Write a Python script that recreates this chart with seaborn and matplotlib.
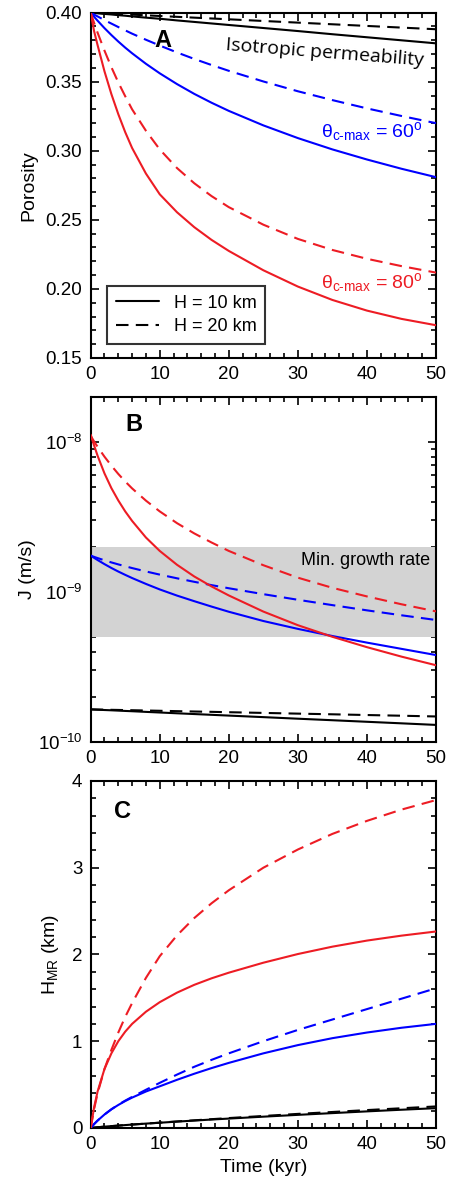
import numpy as np
import pandas as pd
import matplotlib
matplotlib.use("Agg")
import matplotlib.pyplot as plt
import seaborn as sns
from matplotlib.lines import Line2D
from matplotlib.ticker import MultipleLocator, LogLocator, NullFormatter, FormatStrFormatter

sns.set_style("ticks")
plt.rcParams['font.family'] = ['Liberation Sans', 'DejaVu Sans']
plt.rcParams['mathtext.fontset'] = 'custom'
plt.rcParams['mathtext.rm'] = 'Liberation Sans'
plt.rcParams['mathtext.it'] = 'Liberation Sans:italic'
plt.rcParams['mathtext.bf'] = 'Liberation Sans:bold'
plt.rcParams['mathtext.default'] = 'regular'
for k in ['text.color', 'axes.labelcolor', 'axes.edgecolor', 'xtick.color', 'ytick.color']:
    plt.rcParams[k] = 'black'

# ---- data ----
time_kyr = [0, 0.5, 1, 2, 3, 4, 5, 6, 8, 10, 12.5, 15, 17.5, 20, 25, 30, 35, 40, 45, 50]

# A: porosity
por_iso_10 = [0.4000, 0.3998, 0.3996, 0.3991, 0.3987, 0.3982, 0.3978, 0.3973, 0.3964, 0.3956,
              0.3944, 0.3933, 0.3922, 0.3911, 0.3889, 0.3867, 0.3844, 0.3822, 0.3800, 0.3778]
por_iso_20 = [0.4000, 0.3999, 0.3998, 0.3995, 0.3993, 0.3990, 0.3988, 0.3986, 0.3981, 0.3976,
              0.3970, 0.3964, 0.3958, 0.3952, 0.3940, 0.3928, 0.3916, 0.3904, 0.3892, 0.3880]
por_60_10 = [0.400, 0.3970, 0.3942, 0.3888, 0.3838, 0.3791, 0.3747, 0.3706, 0.3630, 0.3561,
             0.3483, 0.3412, 0.3348, 0.3289, 0.3184, 0.3092, 0.3010, 0.2937, 0.2870, 0.2809]
por_60_20 = [0.400, 0.3986, 0.3973, 0.3946, 0.3921, 0.3896, 0.3872, 0.3848, 0.3804, 0.3762,
             0.3712, 0.3665, 0.3621, 0.3579, 0.3502, 0.3431, 0.3367, 0.3307, 0.3252, 0.3200]
por_80_10 = [0.400, 0.3865, 0.3765, 0.3575, 0.341, 0.3265, 0.3135, 0.302, 0.2835, 0.2685,
             0.2555, 0.2447, 0.2355, 0.2275, 0.2135, 0.2017, 0.192, 0.1843, 0.1783, 0.1737]
por_80_20 = [0.400, 0.3925, 0.3855, 0.3725, 0.3605, 0.3495, 0.3395, 0.330, 0.3145, 0.301,
             0.2875, 0.2765, 0.2672, 0.2592, 0.2465, 0.2362, 0.2282, 0.2218, 0.2165, 0.2118]

# B: J in units of 1e-9 m/s
J_iso_10 = [0.165, 0.1646, 0.1642, 0.1634, 0.1627, 0.1619, 0.1611, 0.1604, 0.1588, 0.1573,
            0.1554, 0.1536, 0.1518, 0.1500, 0.1465, 0.1430, 0.1397, 0.1364, 0.1332, 0.1300]
J_iso_20 = [0.165, 0.1648, 0.1646, 0.1643, 0.1639, 0.1636, 0.1632, 0.1629, 0.1622, 0.1615,
            0.1606, 0.1597, 0.1589, 0.1580, 0.1563, 0.1546, 0.1530, 0.1513, 0.1497, 0.1480]
J_60_10 = [1.75, 1.690, 1.635, 1.535, 1.447, 1.370, 1.302, 1.240, 1.133, 1.041,
           0.947, 0.869, 0.800, 0.739, 0.641, 0.568, 0.509, 0.460, 0.418, 0.380]
J_60_20 = [1.75, 1.716, 1.685, 1.628, 1.576, 1.529, 1.486, 1.445, 1.372, 1.307,
           1.235, 1.170, 1.112, 1.060, 0.968, 0.888, 0.818, 0.755, 0.700, 0.651]
J_80_10 = [11.2, 9.48, 8.11, 6.18, 4.93, 4.08, 3.45, 2.98, 2.31, 1.88,
           1.52, 1.27, 1.09, 0.949, 0.741, 0.601, 0.503, 0.429, 0.371, 0.325]
J_80_20 = [11.0, 10.09, 9.30, 7.99, 6.96, 6.13, 5.46, 4.91, 4.07, 3.45,
           2.88, 2.46, 2.14, 1.88, 1.51, 1.247, 1.067, 0.935, 0.829, 0.743]
band_lo, band_hi = 5e-10, 2e-9

# C: H_MR (km)
H_iso_10 = [0, 0.004, 0.008, 0.015, 0.021, 0.027, 0.033, 0.039, 0.050, 0.060,
            0.073, 0.085, 0.097, 0.108, 0.130, 0.151, 0.171, 0.191, 0.210, 0.228]
H_iso_20 = [0, 0.004, 0.008, 0.015, 0.021, 0.027, 0.033, 0.039, 0.050, 0.061,
            0.075, 0.088, 0.101, 0.114, 0.138, 0.162, 0.184, 0.206, 0.227, 0.248]
H_60_10 = [0, 0.045, 0.085, 0.155, 0.215, 0.265, 0.31, 0.35, 0.42, 0.48,
           0.555, 0.625, 0.69, 0.75, 0.86, 0.955, 1.035, 1.10, 1.155, 1.20]
H_60_20 = [0, 0.045, 0.085, 0.155, 0.215, 0.268, 0.315, 0.358, 0.44, 0.52,
           0.615, 0.705, 0.785, 0.86, 1.0, 1.13, 1.25, 1.37, 1.49, 1.61]
H_80_10 = [0, 0.24, 0.42, 0.68, 0.86, 1.00, 1.11, 1.20, 1.34, 1.45,
           1.56, 1.65, 1.725, 1.79, 1.905, 2.005, 2.09, 2.16, 2.217, 2.265]
H_80_20 = [0, 0.22, 0.40, 0.68, 0.90, 1.10, 1.28, 1.44, 1.73, 1.98,
           2.22, 2.42, 2.59, 2.74, 3.0, 3.21, 3.39, 3.54, 3.67, 3.78]

palette = {'iso': 'black', '60': '#0000ff', '80': '#ed1c24'}
dashes = {'10 km': '', '20 km': (6, 3.5)}

def frame(iso10, iso20, s10, s20, e10, e20, scale=1.0):
    rows = []
    series = {('iso', '10 km'): iso10, ('iso', '20 km'): iso20,
              ('60', '10 km'): s10, ('60', '20 km'): s20,
              ('80', '10 km'): e10, ('80', '20 km'): e20}
    for (c, h), vals in series.items():
        for t, v in zip(time_kyr, vals):
            rows.append({'time': t, 'value': v * scale, 'case': c, 'H': h})
    return pd.DataFrame(rows)

dfA = frame(por_iso_10, por_iso_20, por_60_10, por_60_20, por_80_10, por_80_20)
dfB = frame(J_iso_10, J_iso_20, J_60_10, J_60_20, J_80_10, J_80_20, scale=1e-9)
dfC = frame(H_iso_10, H_iso_20, H_60_10, H_60_20, H_80_10, H_80_20)

fig = plt.figure(figsize=(4.55, 11.96), dpi=100)
axA = fig.add_axes([0.1993, 0.7007, 0.7589, 0.2887])
axB = fig.add_axes([0.1993, 0.3796, 0.7589, 0.2885])
axC = fig.add_axes([0.1993, 0.0569, 0.7589, 0.2901])

for ax, df in [(axA, dfA), (axB, dfB), (axC, dfC)]:
    sns.lineplot(data=df, x='time', y='value', hue='case', style='H',
                 palette=palette, dashes=dashes, linewidth=1.5,
                 legend=False, ax=ax, zorder=3)
    ax.set_xlim(0, 50)
    ax.xaxis.set_major_locator(MultipleLocator(10))
    ax.xaxis.set_minor_locator(MultipleLocator(2))
    ax.tick_params(which='both', direction='in', top=True, right=True,
                   labelsize=13.5, width=1.2, pad=6)
    ax.tick_params(which='major', length=6)
    ax.tick_params(which='minor', length=3.5)
    for s in ax.spines.values():
        s.set_linewidth(1.5)
    ax.set_xlabel('')

sub = '$_{\\mathregular{c\u2010max}}$'

# panel A
axA.set_ylim(0.15, 0.40)
axA.yaxis.set_major_locator(MultipleLocator(0.05))
axA.yaxis.set_minor_locator(MultipleLocator(0.01))
axA.yaxis.set_major_formatter(FormatStrFormatter('%.2f'))
axA.set_ylabel('Porosity', fontsize=14, labelpad=6)
axA.text(0.209, 0.918, 'A', transform=axA.transAxes, fontsize=17,
         fontweight='bold', ha='center', va='center')
axA.text(33.9, 0.3712, 'Isotropic permeability', fontsize=14, rotation=-4.5,
         ha='center', va='center', family=['Open Sans', 'DejaVu Sans'])
axA.text(33.3, 0.310, 'θ' + sub + ' = 60$^{\\mathregular{o}}$',
         color=palette['60'], fontsize=14, ha='left', va='baseline')
axA.text(33.3, 0.201, 'θ' + sub + ' = 80$^{\\mathregular{o}}$',
         color=palette['80'], fontsize=14, ha='left', va='baseline')
handles = [Line2D([], [], color='black', lw=1.5, label='H = 10 km'),
           Line2D([], [], color='black', lw=1.5, dashes=(6, 3.5), label='H = 20 km')]
leg = axA.legend(handles=handles, loc='lower left', bbox_to_anchor=(0.047, 0.04),
                 borderaxespad=0, fontsize=13, frameon=True, fancybox=False,
                 edgecolor='black', handlelength=2.4, borderpad=0.5,
                 labelspacing=0.35, handletextpad=0.8)
leg.get_frame().set_linewidth(1.5)

# panel B
axB.set_yscale('log')
axB.set_ylim(1e-10, 2e-8)
axB.yaxis.set_major_locator(LogLocator(base=10))
axB.yaxis.set_minor_locator(LogLocator(base=10, subs=np.arange(2, 10)))
axB.yaxis.set_minor_formatter(NullFormatter())
axB.axhspan(band_lo, band_hi, color='#d3d3d3', lw=0, zorder=1)
axB.text(49.2, 1.62e-9, 'Min. growth rate', fontsize=13, ha='right', va='center')
axB.set_ylabel('J (m/s)', fontsize=14, labelpad=1)
axB.text(0.124, 0.919, 'B', transform=axB.transAxes, fontsize=17,
         fontweight='bold', ha='center', va='center')

# panel C
axC.set_ylim(0, 4)
axC.yaxis.set_major_locator(MultipleLocator(1))
axC.yaxis.set_minor_locator(MultipleLocator(0.2))
axC.set_ylabel('H$_{\\mathregular{MR}}$ (km)', fontsize=14, labelpad=8)
axC.set_xlabel('Time (kyr)', fontsize=14, labelpad=4)
axC.text(0.091, 0.912, 'C', transform=axC.transAxes, fontsize=17,
         fontweight='bold', ha='center', va='center')

fig.savefig('out.png', dpi=100)
